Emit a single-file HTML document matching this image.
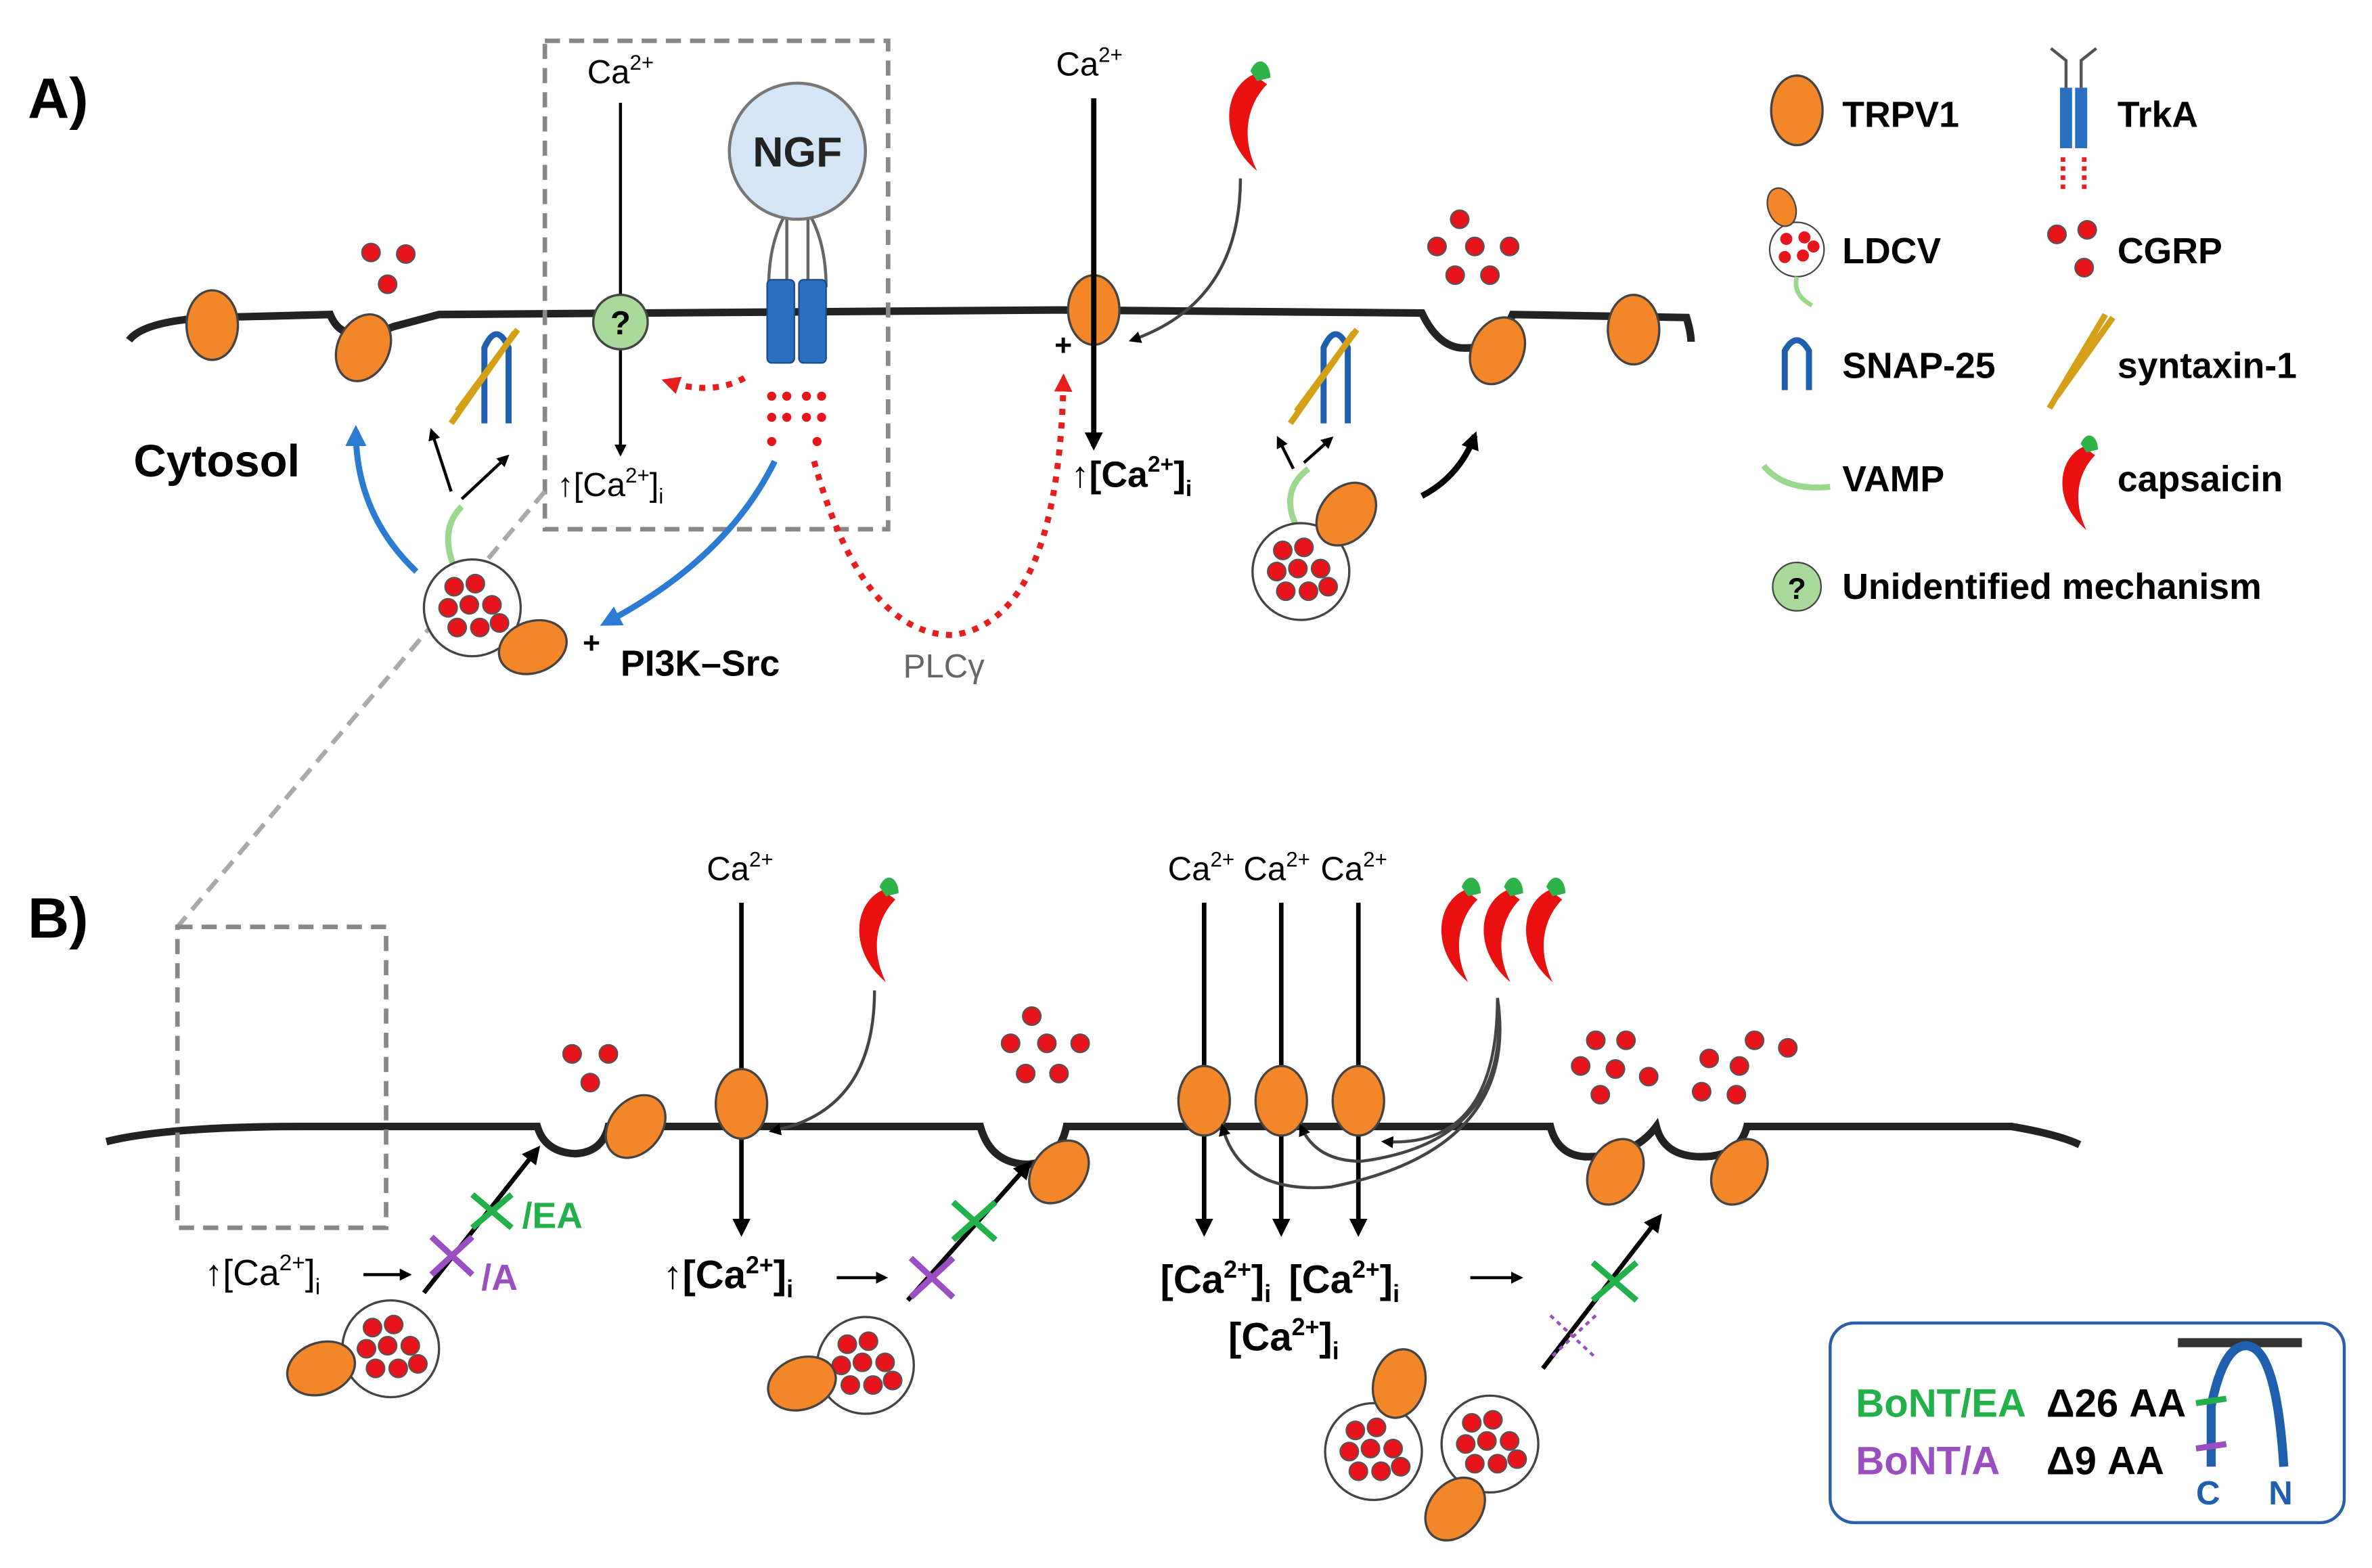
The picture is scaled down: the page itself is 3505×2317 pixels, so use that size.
<!DOCTYPE html>
<html><head><meta charset="utf-8"><style>
html,body{margin:0;padding:0;background:#fff;}
svg{display:block}
text{font-family:"Liberation Sans",sans-serif;}
</style></head><body>
<svg width="3505" height="2317" viewBox="0 0 1568 1037" xmlns="http://www.w3.org/2000/svg">
<defs>
<marker id="ak" markerWidth="8" markerHeight="8" refX="6" refY="4" orient="auto" markerUnits="userSpaceOnUse"><path d="M0,0 L8,4 L0,8 z" fill="#000"/></marker>
<marker id="ak2" markerWidth="12" markerHeight="12" refX="9" refY="6" orient="auto" markerUnits="userSpaceOnUse"><path d="M0,0 L12,6 L0,12 z" fill="#000"/></marker>
<marker id="ab" markerWidth="14" markerHeight="14" refX="10" refY="7" orient="auto" markerUnits="userSpaceOnUse"><path d="M0,0 L14,7 L0,14 z" fill="#2B7BD3"/></marker>
<marker id="ar" markerWidth="12" markerHeight="12" refX="9" refY="6" orient="auto" markerUnits="userSpaceOnUse"><path d="M0,0 L12,6 L0,12 z" fill="#E61E1E"/></marker>
<g id="trp"><ellipse cx="0" cy="0" rx="17" ry="23" fill="#F4862A" stroke="#444" stroke-width="1.5"/></g>
<g id="dot"><circle r="6" fill="#E8141B" stroke="#555" stroke-width="1"/></g>
<g id="ldcv"><circle r="32" fill="#fff" stroke="#444" stroke-width="1.5"/>
<use href="#dot" x="-12" y="-14"/><use href="#dot" x="2" y="-16"/><use href="#dot" x="-16" y="0"/><use href="#dot" x="-2" y="-2"/><use href="#dot" x="13" y="-2"/><use href="#dot" x="-10" y="13"/><use href="#dot" x="5" y="13"/><use href="#dot" x="18" y="10"/></g>
<g id="chili"><path d="M8,-28 C-10,-20 -14,10 10,30 C0,10 4,-10 16,-22 Z" fill="#E81010"/><path d="M6,-30 C10,-40 18,-36 18,-26 L10,-24 Z" fill="#2DB34A"/></g>
<g id="snare"><path d="M0,0 L0,-50 Q8,-68 16,-50 L16,0" fill="none" stroke="#1F5FAD" stroke-width="4"/><path d="M-22,0 L20,-60 M-18,-8 L22,-62" fill="none" stroke="#D4A017" stroke-width="4"/></g>
</defs>

<!-- Panel A -->
<text x="18" y="78" font-size="38" font-weight="bold">A)</text>
<path d="M85,225 Q95,212 140,210 L218,208 Q222,218 230,220 Q245,222 260,216 L290,208 L700,205 L940,207 Q950,228 965,230 Q990,232 1000,208 L1115,210 Q1118,220 1118,226" fill="none" stroke="#222" stroke-width="5"/>
<rect x="360" y="27" width="227" height="323" fill="none" stroke="#888" stroke-width="3" stroke-dasharray="10,6"/>
<line x1="360" y1="325" x2="117" y2="613" stroke="#aaa" stroke-width="3" stroke-dasharray="10,6"/>

<use href="#trp" x="140" y="215"/>
<use href="#trp" transform="translate(240,230) rotate(25)"/>
<use href="#trp" x="723" y="205"/>
<use href="#trp" x="1080" y="218"/>
<use href="#trp" transform="translate(990,232) rotate(25)"/>
<use href="#dot" x="245" y="167"/><use href="#dot" x="268" y="168"/><use href="#dot" x="256" y="188"/>
<use href="#dot" x="965" y="145"/><use href="#dot" x="950" y="163"/><use href="#dot" x="975" y="163"/><use href="#dot" x="998" y="163"/><use href="#dot" x="962" y="182"/><use href="#dot" x="985" y="182"/>

<text x="388" y="55" font-size="22">Ca<tspan font-size="14" dy="-9">2+</tspan></text>
<line x1="410" y1="68" x2="410" y2="300" stroke="#000" stroke-width="2" marker-end="url(#ak)"/>
<circle cx="410" cy="213" r="18" fill="#A8D99A" stroke="#444" stroke-width="1.5"/>
<text x="410" y="221" font-size="22" font-weight="bold" text-anchor="middle">?</text>
<text x="368" y="328" font-size="22">↑[Ca<tspan font-size="14" dy="-9">2+</tspan><tspan dy="9">]</tspan><tspan font-size="14" dy="5">i</tspan></text>

<line x1="520" y1="140" x2="520" y2="185" stroke="#666" stroke-width="2"/><line x1="534" y1="140" x2="534" y2="185" stroke="#666" stroke-width="2"/>
<path d="M508,190 Q508,160 520,140 M546,190 Q546,160 534,140" fill="none" stroke="#666" stroke-width="2"/>
<circle cx="527" cy="100" r="45" fill="#D4E6F6" stroke="#777" stroke-width="2"/>
<text x="527" y="110" font-size="28" font-weight="bold" text-anchor="middle" fill="#222">NGF</text>
<rect x="507" y="185" width="18" height="55" rx="3" fill="#2A6FC0" stroke="#1a4a8a"/>
<rect x="528" y="185" width="18" height="55" rx="3" fill="#2A6FC0" stroke="#1a4a8a"/>
<g fill="#E8141B"><circle cx="510" cy="262" r="3"/><circle cx="520" cy="262" r="3"/><circle cx="533" cy="262" r="3"/><circle cx="543" cy="262" r="3"/><circle cx="510" cy="276" r="3"/><circle cx="520" cy="276" r="3"/><circle cx="533" cy="276" r="3"/><circle cx="543" cy="276" r="3"/><circle cx="510" cy="292" r="3"/><circle cx="540" cy="292" r="3"/></g>
<path d="M492,250 Q470,262 440,252" fill="none" stroke="#E61E1E" stroke-width="4" stroke-dasharray="4,5" marker-end="url(#ar)"/>
<path d="M512,305 Q480,370 400,412" fill="none" stroke="#2B7BD3" stroke-width="4" marker-end="url(#ab)"/>
<path d="M538,305 Q570,420 630,420 Q700,410 703,250" fill="none" stroke="#E61E1E" stroke-width="4" stroke-dasharray="4,5" marker-end="url(#ar)"/>
<text x="597" y="448" font-size="22" fill="#666">PLCγ</text>

<text x="698" y="50" font-size="22">Ca<tspan font-size="14" dy="-9">2+</tspan></text>
<line x1="723" y1="65" x2="723" y2="295" stroke="#000" stroke-width="3.5" marker-end="url(#ak2)"/>
<text x="697" y="235" font-size="20" font-weight="bold">+</text>
<text x="708" y="322" font-size="24" font-weight="bold">↑[Ca<tspan font-size="15" dy="-10">2+</tspan><tspan dy="10">]</tspan><tspan font-size="15" dy="6">i</tspan></text>
<use href="#chili" transform="translate(820,80) scale(1.1)"/>
<path d="M820,118 Q820,200 748,225" fill="none" stroke="#444" stroke-width="2" marker-end="url(#ak)"/>

<use href="#snare" x="320" y="280"/>
<use href="#snare" x="875" y="280"/>
<path d="M298,325 L285,285" stroke="#000" stroke-width="2" marker-end="url(#ak)"/>
<path d="M305,330 L335,302" stroke="#000" stroke-width="2" marker-end="url(#ak)"/>
<path d="M855,310 L845,290" stroke="#000" stroke-width="2" marker-end="url(#ak)"/>
<path d="M862,306 L880,290" stroke="#000" stroke-width="2" marker-end="url(#ak)"/>
<path d="M300,375 Q290,350 305,335" fill="none" stroke="#9BD88E" stroke-width="4"/>
<path d="M858,350 Q845,325 865,310" fill="none" stroke="#9BD88E" stroke-width="4"/>
<text x="88" y="315" font-size="30" font-weight="bold">Cytosol</text>
<path d="M275,378 Q235,340 235,285" fill="none" stroke="#2B7BD3" stroke-width="4" marker-end="url(#ab)"/>
<use href="#ldcv" x="312" y="402"/>
<use href="#trp" transform="translate(352,428) rotate(70)"/>
<text x="385" y="432" font-size="20" font-weight="bold">+</text>
<text x="410" y="447" font-size="24" font-weight="bold">PI3K–Src</text>
<use href="#ldcv" x="860" y="378"/>
<use href="#trp" transform="translate(890,340) rotate(40)"/>
<path d="M940,328 Q965,315 975,288" fill="none" stroke="#000" stroke-width="4" marker-end="url(#ak2)"/>

<!-- Legend -->
<g font-size="24" font-weight="bold">
<use href="#trp" x="1188" y="73"/><text x="1218" y="84">TRPV1</text>
<rect x="1362" y="58" width="8" height="40" fill="#2A6FC0"/><rect x="1372" y="58" width="8" height="40" fill="#2A6FC0"/>
<path d="M1366,58 L1366,40 L1356,32 M1376,58 L1376,40 L1386,32" fill="none" stroke="#555" stroke-width="2"/>
<path d="M1364,104 L1364,126 M1378,104 L1378,126" stroke="#E61E1E" stroke-width="3" stroke-dasharray="3,3"/>
<text x="1400" y="84">TrkA</text>
<circle cx="1188" cy="165" r="18" fill="#fff" stroke="#444"/>
<g fill="#E8141B"><circle cx="1181" cy="158" r="4"/><circle cx="1193" cy="157" r="4"/><circle cx="1180" cy="170" r="4"/><circle cx="1192" cy="169" r="4"/><circle cx="1199" cy="163" r="4"/></g>
<ellipse cx="1178" cy="137" rx="9" ry="13" fill="#F4862A" stroke="#444" transform="rotate(-20 1178 137)"/>
<path d="M1188,183 Q1185,195 1198,202" fill="none" stroke="#9BD88E" stroke-width="3"/>
<text x="1218" y="174">LDCV</text>
<use href="#dot" x="1360" y="155"/><use href="#dot" x="1380" y="152"/><use href="#dot" x="1378" y="177"/>
<text x="1400" y="174">CGRP</text>
<path d="M1180,258 L1180,232 Q1188,218 1196,232 L1196,258" fill="none" stroke="#1F5FAD" stroke-width="4"/>
<text x="1218" y="250">SNAP-25</text>
<path d="M1355,270 L1392,208 M1360,262 L1397,210" stroke="#D4A017" stroke-width="4"/>
<text x="1400" y="250">syntaxin-1</text>
<path d="M1166,308 Q1180,325 1210,322" fill="none" stroke="#9BD88E" stroke-width="4"/>
<text x="1218" y="325">VAMP</text>
<use href="#chili" transform="translate(1370,322) scale(0.95)"/>
<text x="1400" y="325">capsaicin</text>
<circle cx="1188" cy="388" r="16" fill="#A8D99A" stroke="#444"/>
<text x="1188" y="396" font-size="20" text-anchor="middle">?</text>
<text x="1218" y="396">Unidentified mechanism</text>
</g>

<!-- Panel B -->
<text x="18" y="620" font-size="38" font-weight="bold">B)</text>
<path d="M70,755 Q110,745 200,745 L355,745 Q360,762 380,763 Q398,762 402,745 L648,745 Q655,770 680,770 Q700,768 705,745 L1025,745 Q1030,765 1050,765 Q1080,765 1095,745 Q1100,765 1125,765 Q1150,765 1155,745 L1330,745 Q1360,750 1375,757" fill="none" stroke="#222" stroke-width="5"/>
<rect x="117" y="613" width="138" height="199" fill="none" stroke="#888" stroke-width="3" stroke-dasharray="10,6"/>

<use href="#dot" x="378" y="697"/><use href="#dot" x="402" y="697"/><use href="#dot" x="390" y="716"/>
<use href="#trp" transform="translate(420,745) rotate(40)"/>
<use href="#dot" x="682" y="672"/><use href="#dot" x="668" y="690"/><use href="#dot" x="692" y="690"/><use href="#dot" x="714" y="690"/><use href="#dot" x="678" y="710"/><use href="#dot" x="700" y="710"/>
<use href="#trp" transform="translate(700,775) rotate(40)"/>
<use href="#dot" x="1055" y="688"/><use href="#dot" x="1075" y="688"/><use href="#dot" x="1045" y="705"/><use href="#dot" x="1068" y="707"/><use href="#dot" x="1090" y="712"/><use href="#dot" x="1058" y="724"/>
<use href="#dot" x="1160" y="688"/><use href="#dot" x="1182" y="693"/><use href="#dot" x="1130" y="700"/><use href="#dot" x="1150" y="705"/><use href="#dot" x="1125" y="722"/><use href="#dot" x="1148" y="724"/>
<use href="#trp" transform="translate(1068,775) rotate(30)"/>
<use href="#trp" transform="translate(1150,775) rotate(30)"/>

<text x="467" y="582" font-size="22">Ca<tspan font-size="14" dy="-9">2+</tspan></text>
<line x1="490" y1="597" x2="490" y2="815" stroke="#000" stroke-width="3" marker-end="url(#ak2)"/>
<use href="#trp" x="490" y="730"/>
<use href="#chili" transform="translate(575,618) scale(1.05)"/>
<path d="M578,655 Q578,735 510,748" fill="none" stroke="#444" stroke-width="2" marker-end="url(#ak)"/>

<g font-size="22"><text x="772" y="582">Ca<tspan font-size="14" dy="-9">2+</tspan></text><text x="822" y="582">Ca<tspan font-size="14" dy="-9">2+</tspan></text><text x="873" y="582">Ca<tspan font-size="14" dy="-9">2+</tspan></text></g>
<g stroke="#000" stroke-width="3"><line x1="796" y1="597" x2="796" y2="815" marker-end="url(#ak2)"/><line x1="847" y1="597" x2="847" y2="815" marker-end="url(#ak2)"/><line x1="898" y1="597" x2="898" y2="815" marker-end="url(#ak2)"/></g>
<use href="#trp" x="796" y="728"/><use href="#trp" x="847" y="728"/><use href="#trp" x="898" y="728"/>
<use href="#chili" transform="translate(960,618) scale(1.05)"/><use href="#chili" transform="translate(988,618) scale(1.05)"/><use href="#chili" transform="translate(1016,618) scale(1.05)"/>
<g fill="none" stroke="#444" stroke-width="2">
<path d="M990,660 Q1005,760 880,785 Q820,790 808,745" marker-end="url(#ak)"/>
<path d="M990,660 Q1000,755 900,768 Q870,768 860,745" marker-end="url(#ak)"/>
<path d="M990,660 Q990,760 915,755" marker-end="url(#ak)"/>
</g>

<text x="135" y="850" font-size="24">↑[Ca<tspan font-size="15" dy="-10">2+</tspan><tspan dy="10">]</tspan><tspan font-size="15" dy="6">i</tspan></text>
<line x1="240" y1="843" x2="270" y2="843" stroke="#000" stroke-width="2" marker-end="url(#ak)"/>
<line x1="280" y1="855" x2="355" y2="760" stroke="#000" stroke-width="3" marker-end="url(#ak2)"/>
<path d="M312,790 L338,812 M338,790 L312,812" stroke="#22B04B" stroke-width="4"/>
<text x="345" y="812" font-size="24" font-weight="bold" fill="#22B04B">/EA</text>
<path d="M285,818 L312,843 M312,818 L285,843" stroke="#9A4FC0" stroke-width="4"/>
<text x="318" y="853" font-size="24" font-weight="bold" fill="#9A4FC0">/A</text>
<use href="#ldcv" x="258" y="892"/>
<use href="#trp" transform="translate(212,905) rotate(70)"/>

<text x="438" y="852" font-size="26" font-weight="bold">↑[Ca<tspan font-size="16" dy="-10">2+</tspan><tspan dy="10">]</tspan><tspan font-size="16" dy="6">i</tspan></text>
<line x1="553" y1="845" x2="585" y2="845" stroke="#000" stroke-width="2" marker-end="url(#ak)"/>
<line x1="600" y1="860" x2="680" y2="770" stroke="#000" stroke-width="3" marker-end="url(#ak2)"/>
<path d="M630,795 L658,820 M658,795 L630,820" stroke="#22B04B" stroke-width="4"/>
<path d="M602,832 L630,858 M630,832 L602,858" stroke="#9A4FC0" stroke-width="4"/>
<use href="#ldcv" x="572" y="903"/>
<use href="#trp" transform="translate(530,915) rotate(70)"/>

<g font-size="26" font-weight="bold"><text x="767" y="855">[Ca<tspan font-size="16" dy="-10">2+</tspan><tspan dy="10">]</tspan><tspan font-size="16" dy="6">i</tspan></text>
<text x="852" y="855">[Ca<tspan font-size="16" dy="-10">2+</tspan><tspan dy="10">]</tspan><tspan font-size="16" dy="6">i</tspan></text>
<text x="812" y="893">[Ca<tspan font-size="16" dy="-10">2+</tspan><tspan dy="10">]</tspan><tspan font-size="16" dy="6">i</tspan></text></g>
<line x1="972" y1="845" x2="1005" y2="845" stroke="#000" stroke-width="2" marker-end="url(#ak)"/>
<line x1="1020" y1="905" x2="1097" y2="805" stroke="#000" stroke-width="3" marker-end="url(#ak2)"/>
<path d="M1053,835 L1082,860 M1082,835 L1053,860" stroke="#22B04B" stroke-width="4"/>
<path d="M1025,870 L1055,898 M1055,870 L1025,898" stroke="#9A4FC0" stroke-width="2" stroke-dasharray="3,3"/>
<use href="#ldcv" x="908" y="960"/>
<use href="#ldcv" x="985" y="955"/>
<use href="#trp" transform="translate(925,915) rotate(15)"/>
<use href="#trp" transform="translate(962,998) rotate(40)"/>

<!-- inset box -->
<rect x="1210" y="875" width="340" height="132" rx="16" fill="#fff" stroke="#2B5FAA" stroke-width="2"/>
<text x="1227" y="937" font-size="26" font-weight="bold" fill="#22B04B">BoNT/EA</text>
<text x="1353" y="937" font-size="26" font-weight="bold">Δ26 AA</text>
<text x="1227" y="975" font-size="26" font-weight="bold" fill="#9A4FC0">BoNT/A</text>
<text x="1353" y="975" font-size="26" font-weight="bold">Δ9 AA</text>
<line x1="1440" y1="888" x2="1522" y2="888" stroke="#333" stroke-width="6"/>
<path d="M1462,970 L1462,930 Q1470,890 1485,890 Q1505,890 1510,970" fill="none" stroke="#1F5FAD" stroke-width="6"/>
<line x1="1452" y1="928" x2="1472" y2="925" stroke="#22B04B" stroke-width="4"/>
<line x1="1452" y1="958" x2="1472" y2="955" stroke="#9A4FC0" stroke-width="4"/>
<text x="1452" y="995" font-size="22" font-weight="bold" fill="#1F5FAD">C</text>
<text x="1500" y="995" font-size="22" font-weight="bold" fill="#1F5FAD">N</text>
</svg>
</body></html>
